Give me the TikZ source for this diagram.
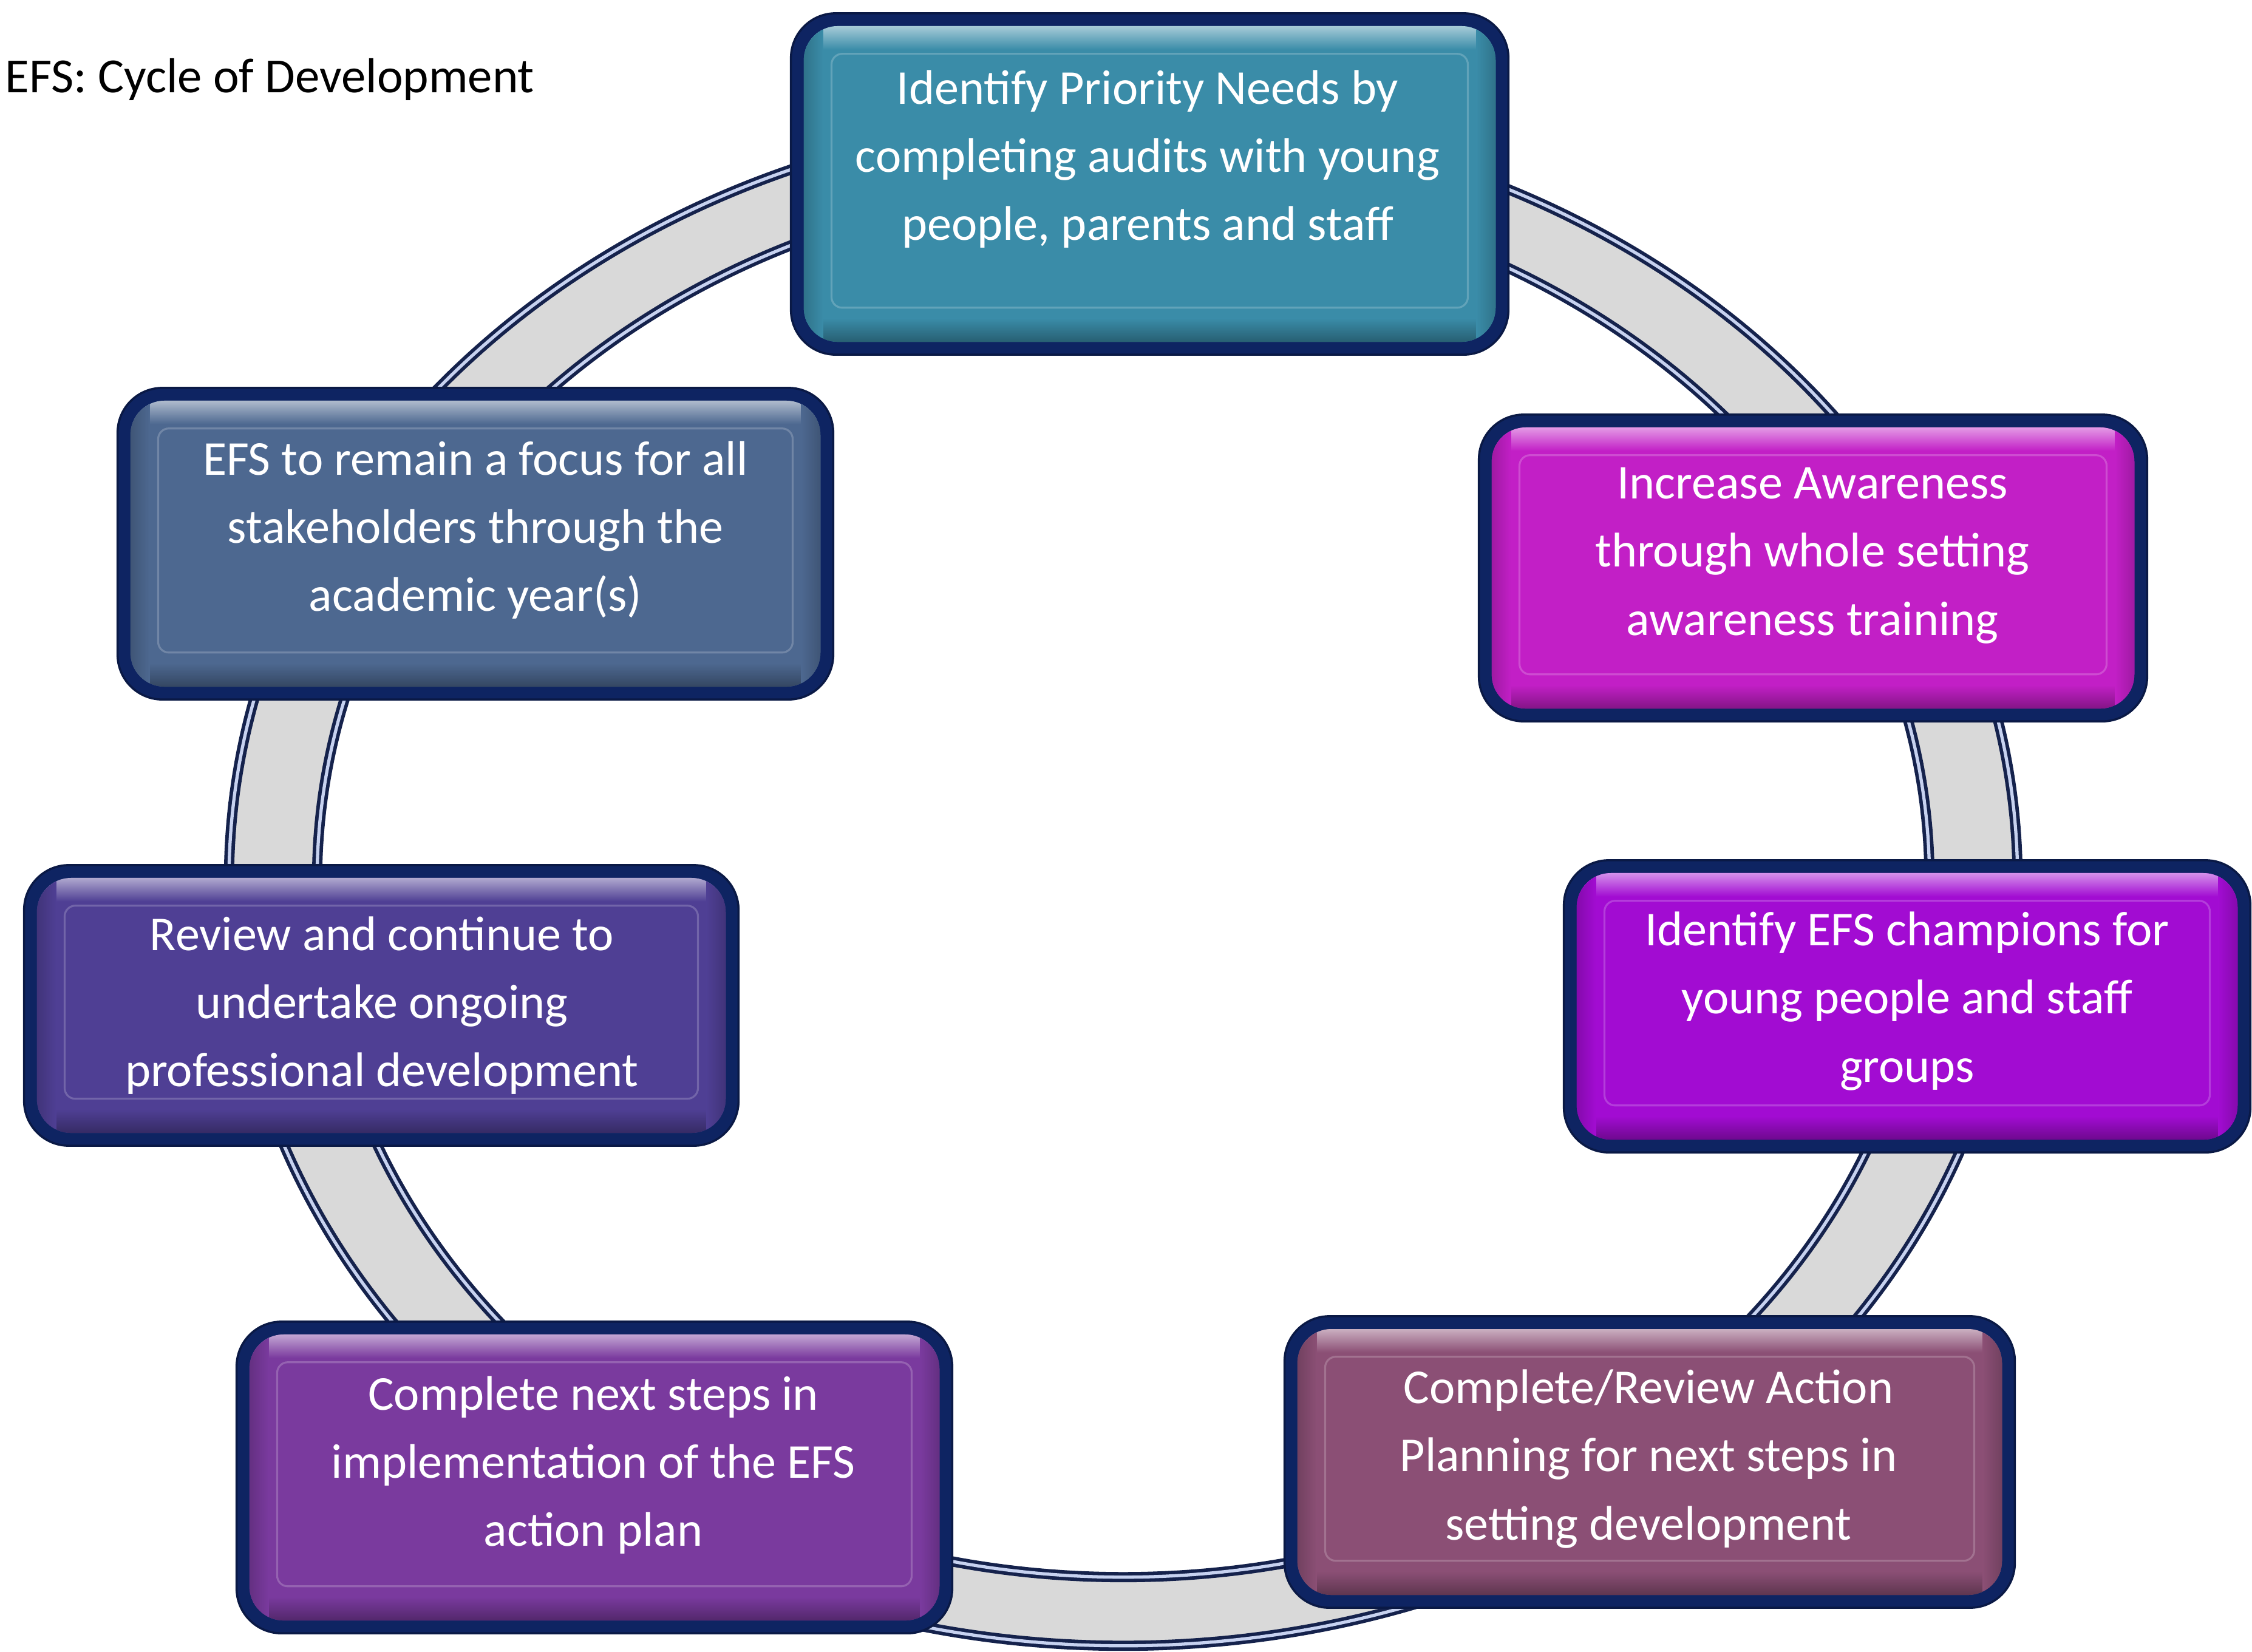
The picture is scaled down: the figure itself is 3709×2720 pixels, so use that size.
\documentclass[tikz,border=0pt]{standalone}
\usepackage{fontspec}
\setmainfont{Carlito}
\definecolor{navy}{HTML}{0E2462}
\definecolor{ringgray}{HTML}{D9D9D9}
\definecolor{ringdark}{HTML}{15224C}
\definecolor{ringlight}{HTML}{C7D2F0}
\definecolor{cteal}{HTML}{3A8CA8}
\definecolor{cmagenta}{HTML}{C21FC6}
\definecolor{cpurple}{HTML}{A20CD2}
\definecolor{cmauve}{HTML}{8B4F75}
\definecolor{cviolet}{HTML}{7A3A9E}
\definecolor{cindigo}{HTML}{4F3F94}
\definecolor{cslate}{HTML}{4D6890}
\tikzset{
  efsbox/.style={rounded corners=21pt, fill=navy, draw=navy!70!black, line width=1pt, inner sep=0pt,
    path picture={
      \begin{scope}[sharp corners]
        \clip[rounded corners=16pt] ([shift={(6pt,-6pt)}]path picture bounding box.north west) rectangle ([shift={(-6pt,6pt)}]path picture bounding box.south east);
        \fill[#1] (path picture bounding box.north west) rectangle (path picture bounding box.south east);
        \shade[top color=#1!40!white, bottom color=#1] ([yshift=-5pt]path picture bounding box.north west) rectangle ([yshift=-17pt]path picture bounding box.north east);
        \shade[top color=#1, bottom color=#1!65!black] ([yshift=17pt]path picture bounding box.south west) rectangle ([yshift=5pt]path picture bounding box.south east);
        \shade[left color=#1!70!black, right color=#1] (path picture bounding box.south west) rectangle ([xshift=15pt]path picture bounding box.north west);
        \shade[left color=#1, right color=#1!70!black] ([xshift=-15pt]path picture bounding box.south east) rectangle (path picture bounding box.north east);
      \end{scope}
      \draw[#1!55!white, opacity=.45, line width=.9pt, rounded corners=5pt] ([shift={(19pt,-19pt)}]path picture bounding box.north west) rectangle ([shift={(-19pt,22pt)}]path picture bounding box.south east);
    }},
  efstext/.style={align=center, text=white, font=\fontsize{22.8pt}{31.9pt}\selectfont, inner sep=0pt},
  ringedge/.style={draw=ringdark, line width=4.8pt},
  ringshine/.style={draw=ringlight, line width=1.5pt}
}
\begin{document}
\begin{tikzpicture}[x=0.01cm, y=-0.01cm]
\fill[white] (0,0) rectangle (3709,2720);
\useasboundingbox (0,0) rectangle (3709,2720);

% ring
\coordinate (rc) at (1850,1450);
\fill[ringgray, even odd rule] (rc) ellipse [x radius=14.72cm, y radius=12.60cm]
                                (rc) ellipse [x radius=13.27cm, y radius=11.47cm];
\draw[ringedge] (rc) ellipse [x radius=14.72cm, y radius=12.60cm];
\draw[ringshine] (rc) ellipse [x radius=14.72cm, y radius=12.60cm];
\draw[ringedge] (rc) ellipse [x radius=13.27cm, y radius=11.47cm];
\draw[ringshine] (rc) ellipse [x radius=13.27cm, y radius=11.47cm];

% title
\node[anchor=base west, inner sep=0pt, font=\fontsize{23pt}{28pt}\selectfont] (title) at (8,152) {EFS: Cycle of Development};

% boxes
\node[efsbox=cteal,    minimum width=11.81cm, minimum height=5.62cm] (b1) at (1893.5,303) {};
\node[efsbox=cmagenta, minimum width=11.00cm, minimum height=5.05cm] (b2) at (2986,935.5) {};
\node[efsbox=cpurple,  minimum width=11.30cm, minimum height=4.81cm] (b3) at (3141,1657.5) {};
\node[efsbox=cmauve,   minimum width=12.02cm, minimum height=4.80cm] (b4) at (2717,2408) {};
\node[efsbox=cviolet,  minimum width=11.78cm, minimum height=5.13cm] (b5) at (979,2433.5) {};
\node[efsbox=cindigo,  minimum width=11.76cm, minimum height=4.62cm] (b6) at (628,1656) {};
\node[efsbox=cslate,   minimum width=11.78cm, minimum height=5.13cm] (b7) at (783,895.5) {};

% texts
\node[efstext] (t1) at (1890,262) {Identify Priority Needs by\\completing audits with young\\people, parents and staff};
\node[efstext] (t2) at (2985,915) {Increase Awareness\\through whole setting\\awareness training};
\node[efstext] (t3) at (3141,1649) {Identify EFS champions for\\young people and staff\\groups};
\node[efstext] (t4) at (2715,2403) {Complete/Review Action\\Planning for next steps in\\setting development};
\node[efstext] (t5) at (977,2413) {Complete next steps in\\implementation of the EFS\\action plan};
\node[efstext] (t6) at (629,1656) {Review and continue to\\undertake ongoing\\professional development};
\node[efstext] (t7) at (783,873) {EFS to remain a focus for all\\stakeholders through the\\academic year(s)};
\end{tikzpicture}
\end{document}
